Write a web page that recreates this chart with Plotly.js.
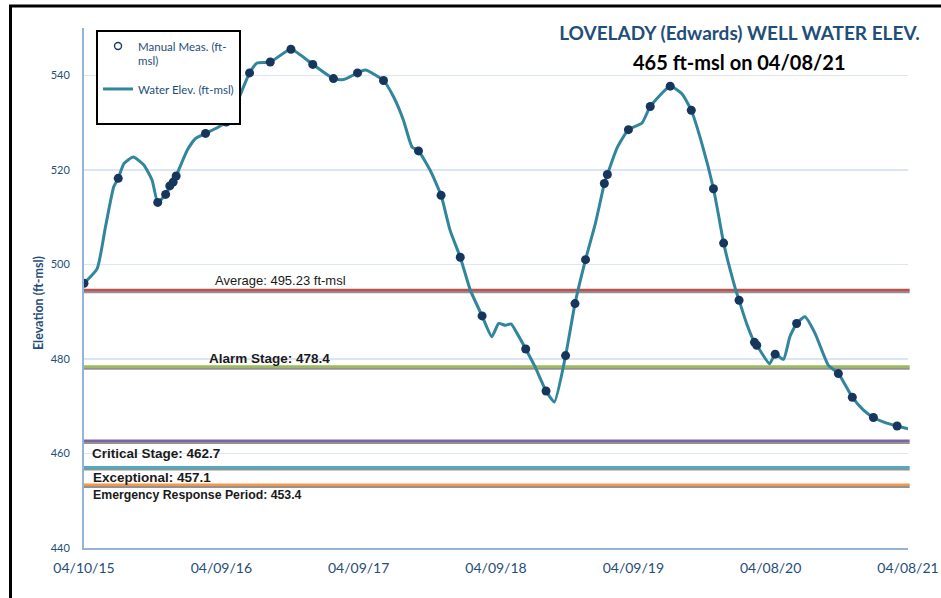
<!DOCTYPE html>
<html>
<head>
<meta charset="utf-8">
<script src="https://cdn.plot.ly/plotly-3.0.1.min.js"></script>
<style>
html,body{margin:0;padding:0;background:#fff;}
#chart{width:941px;height:598px;}
</style>
</head>
<body>
<div id="chart"></div>
<script>
// ---- data ----
const lineDates = ['2015-04-10','2015-05-15','2015-06-06','2015-06-28','2015-07-10','2015-07-25','2015-08-19','2015-09-16','2015-10-08','2015-10-23',
 '2015-11-13','2015-11-24','2015-12-03','2015-12-11','2016-01-09','2016-01-31','2016-02-27','2016-03-29','2016-04-22','2016-05-16',
 '2016-06-03','2016-06-23','2016-07-13','2016-08-17','2016-10-11','2016-12-08','2017-02-01','2017-02-28','2017-04-06','2017-04-27',
 '2017-06-14','2017-07-11','2017-08-06','2017-08-29','2017-09-15','2017-10-16','2017-11-14','2017-12-08','2018-01-04','2018-01-31',
 '2018-03-03','2018-03-29','2018-04-16','2018-05-04','2018-05-19','2018-06-04','2018-06-27','2018-07-22','2018-08-20','2018-09-11',
 '2018-10-11','2018-11-05','2018-12-03','2018-12-29','2019-01-22','2019-01-30','2019-02-24','2019-03-27','2019-05-02','2019-05-24',
 '2019-07-16','2019-08-16','2019-09-10','2019-10-08','2019-11-08','2019-11-24','2019-12-05','2020-01-04','2020-01-15','2020-02-04',
 '2020-02-25','2020-03-02','2020-04-05','2020-04-20','2020-05-12','2020-05-29','2020-06-16','2020-07-08','2020-08-04','2020-09-08',
 '2020-10-05','2020-11-11','2020-12-10','2021-01-06','2021-02-10','2021-03-10','2021-04-08'];
const lineValues = [496.0,499.1,507.9,516.4,518.2,521.3,522.7,521.0,517.8,513.1,
 514.8,516.6,517.4,518.7,524.1,526.6,527.7,528.9,530.1,533.3,
 536.8,540.5,542.6,542.8,545.5,542.3,539.3,539.1,540.5,541.1,
 538.9,535.4,530.5,524.8,524.0,519.9,514.6,507.2,501.5,494.5,
 489.1,484.7,487.5,487.1,487.4,485.4,482.1,478.3,473.2,470.9,
 480.7,491.7,501.0,508.6,517.1,519.0,524.5,528.5,529.9,533.4,
 537.7,536.1,532.6,525.6,516.0,509.3,504.5,495.2,492.4,487.5,
 483.5,482.9,479.0,481.0,479.9,484.7,487.5,488.9,485.4,478.7,
 476.9,471.9,469.2,467.6,466.4,465.8,465.2];

const manualDates = ['2015-04-10','2015-07-10','2015-10-23','2015-11-13','2015-11-24','2015-12-03','2015-12-11','2016-02-27','2016-04-22','2016-06-23',
 '2016-08-17','2016-10-11','2016-12-08','2017-02-01','2017-04-06','2017-06-14','2017-09-15','2017-11-14','2018-01-04','2018-03-03',
 '2018-06-27','2018-08-20','2018-10-11','2018-11-05','2018-12-03','2019-01-22','2019-01-30','2019-03-27','2019-05-24','2019-07-16',
 '2019-09-10','2019-11-08','2019-12-05','2020-01-15','2020-02-25','2020-03-02','2020-04-20','2020-06-16','2020-10-05','2020-11-11',
 '2021-01-06','2021-03-10'];
const manualValues = [496.0,518.2,513.1,514.8,516.6,517.4,518.7,527.7,530.1,540.5,
 542.8,545.5,542.3,539.3,540.5,538.9,524.0,514.6,501.5,489.1,
 482.1,473.2,480.7,491.7,501.0,517.1,519.0,528.5,533.4,537.7,
 532.6,516.0,504.5,492.4,483.5,482.9,481.0,487.5,476.9,471.9,
 467.6,465.8];

const thresholdNames  = ['Average: 495.23 ft-msl','Alarm Stage: 478.4','Critical Stage: 462.7','Exceptional: 457.1','Emergency Response Period: 453.4'];
const thresholdLevels = [494.6, 478.4, 462.7, 457.1, 453.4];
const thresholdColors = ['#C0504D','#9BBB59','#8064A2','#4BACC6','#F79646'];

const tickDates  = ['2015-04-10','2016-04-09','2017-04-09','2018-04-09','2019-04-09','2020-04-08','2021-04-08'];
const tickLabels = ['04/10/15','04/09/16','04/09/17','04/09/18','04/09/19','04/08/20','04/08/21'];
const yTicks = [440,460,480,500,520,540];

const chartTitle = 'LOVELADY (Edwards) WELL WATER ELEV.';
const chartSubtitle = '465 ft-msl on 04/08/21';
const yTitle = 'Elevation (ft-msl)';

// ---- styling / layout ----
const calibri = 'Lato, "Liberation Sans", sans-serif';
const arial = '"Liberation Sans", Arial, sans-serif';
const blueText = '#1F4E79';

const traces = [
  {x:[null], y:[null], type:'scatter', mode:'markers', name:'Manual Meas. (ft-<br>msl)', legendgroup:'a',
   marker:{symbol:'circle-open', size:7, color:'#1F3864', line:{width:1.4}}, hoverinfo:'skip'},
  {x:lineDates, y:lineValues, type:'scatter', mode:'lines', name:'Water Elev. (ft-msl)', legendgroup:'b',
   line:{color:'#31859C', width:3, shape:'spline', smoothing:0.5}},
  {x:manualDates, y:manualValues, type:'scatter', mode:'markers', name:'Manual Meas.', showlegend:false,
   marker:{size:9, color:'#17365D'}},
  {x:[null], y:[null], type:'scatter', mode:'lines', name:' ', legendgroup:'b', line:{width:0, color:'rgba(0,0,0,0)'}, hoverinfo:'skip'}
];

const shapes = [];
thresholdLevels.forEach((v,i)=>{
  shapes.push({type:'line', layer:'between', xref:'paper', x0:0, x1:1.002, yref:'y', ysizemode:'pixel', yanchor:v, y0:-2, y1:-2,
    line:{color:'rgba(110,110,110,0.75)', width:2.5}});
  shapes.push({type:'line', layer:'between', xref:'paper', x0:0, x1:1.002, yref:'y', y0:v, y1:v,
    line:{color:thresholdColors[i], width:2.5}});
});
// outer black frame
shapes.push({type:'rect', xref:'paper', yref:'paper', x0:-0.0892, x1:1.06, y0:-0.13, y1:1.0423,
  line:{color:'#000', width:3}, fillcolor:'rgba(0,0,0,0)', layer:'above'});

const labelX = [0.1566, 0.1493, 0.0073, 0.0085, 0.0085];
const labelShift = [9, 8, -13, -10, -10];
const labelBold = [false, true, true, true, true];
const labelSize = [13, 13.5, 13.5, 13.5, 12.3];
const annotations = thresholdNames.map((t,i)=>({
  text: labelBold[i] ? '<b>'+t+'</b>' : t,
  xref:'paper', x:labelX[i], xanchor:'left', yref:'y', y:thresholdLevels[i], yshift:labelShift[i], yanchor:'middle',
  showarrow:false, font:{family:arial, size:labelSize[i], color:'#1a1a1a'}
}));
annotations.push({text:'<b>'+chartSubtitle+'</b>', xref:'paper', yref:'paper', x:0.7955, y:0.9352,
  xanchor:'center', yanchor:'middle', showarrow:false, font:{family:calibri, size:20, color:'#000'}});
annotations.push({text:'<b>'+yTitle+'</b>', xref:'paper', yref:'paper', x:-0.0558, y:0.471, textangle:-90,
  xanchor:'center', yanchor:'middle', showarrow:false, font:{family:calibri, size:12.5, color:blueText}});

const layout = {
  width:941, height:598,
  margin:{l:84, r:33, t:28, b:50, pad:0},
  paper_bgcolor:'#fff', plot_bgcolor:'#fff',
  title:{text:'<b>'+chartTitle+'</b>', xref:'paper', yref:'paper', x:0.7955, y:0.9904, xanchor:'center', yanchor:'middle',
    font:{family:calibri, size:19, color:blueText}},
  showlegend:true,
  legend:{x:0.0146, y:0.996, xanchor:'left', yanchor:'top', bgcolor:'#fff', bordercolor:'#000', borderwidth:2,
    font:{family:calibri, size:11.5, color:blueText}, traceorder:'grouped', tracegroupgap:10, itemwidth:30, valign:'top'},
  xaxis:{type:'date', range:['2015-04-10','2021-04-08'], tickvals:tickDates, ticktext:tickLabels,
    showgrid:false, zeroline:false, showline:true, linecolor:'#95B3D7', linewidth:2,
    ticks:'outside', ticklen:6, tickcolor:'rgba(0,0,0,0)',
    tickfont:{family:calibri, size:14, color:blueText}},
  yaxis:{range:[440,550], tickvals:yTicks, showgrid:true, gridcolor:'#DCE6F2', gridwidth:1.5,
    zeroline:false, showline:true, linecolor:'#95B3D7', linewidth:2,
    ticks:'outside', ticklen:10, tickcolor:'rgba(0,0,0,0)',
    tickfont:{family:calibri, size:11, color:blueText}},
  shapes:shapes, annotations:annotations
};

Plotly.newPlot('chart', traces, layout, {staticPlot:true, displayModeBar:false});
</script>
</body>
</html>
